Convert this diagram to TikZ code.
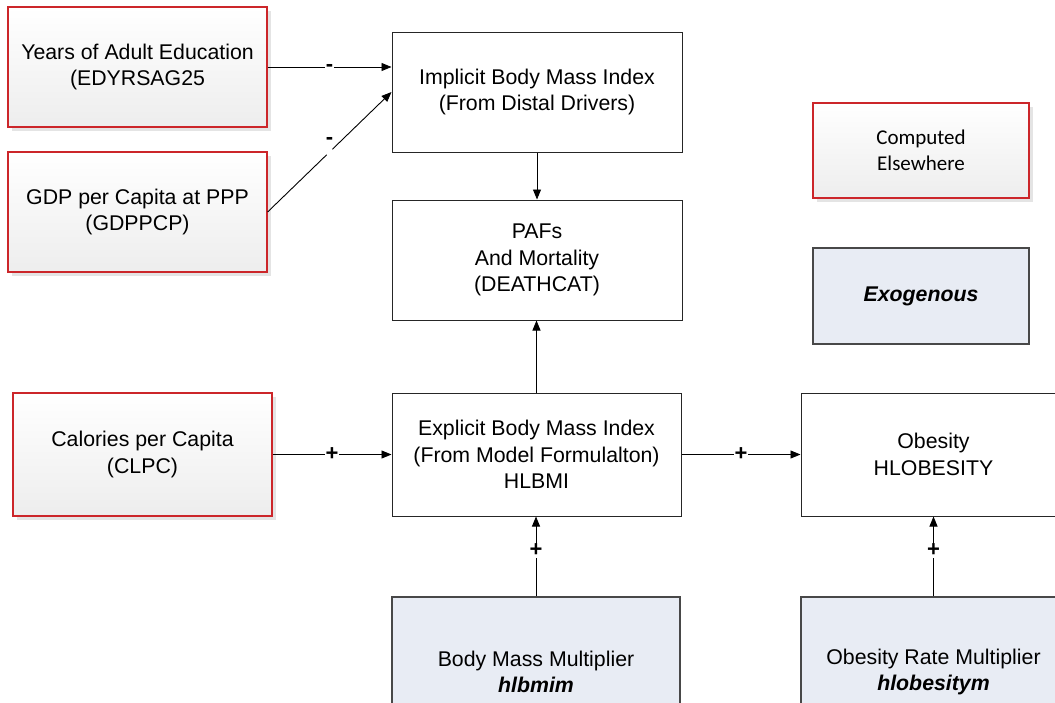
\documentclass[tikz,border=0pt]{standalone}
\usepackage{fontspec}
\setmainfont{Liberation Sans}
\newfontfamily\calibri{Carlito}
\usetikzlibrary{arrows.meta,shadows}

\definecolor{srcred}{RGB}{204,38,42}
\definecolor{exofill}{RGB}{232,236,244}
\definecolor{exoline}{RGB}{72,72,72}
\definecolor{shade}{RGB}{228,228,228}

\begin{document}
\begin{tikzpicture}[x=1pt,y=-1pt,
  txt/.style={font=\fontsize{21.3}{26.5}\selectfont, align=center, inner sep=0pt},
  plainbox/.style={txt, rectangle, draw=black!85, line width=1pt, fill=white},
  srcbox/.style={txt, rectangle, draw=srcred, line width=1.2pt,
    top color=white, bottom color=black!7,
    drop shadow={shadow xshift=4pt, shadow yshift=-4pt, fill=shade, opacity=1}},
  exobox/.style={txt, rectangle, draw=exoline, line width=1.2pt, fill=exofill},
  arr/.style={line width=0.9pt, -{Triangle[length=10pt,width=8pt]}},
  sign/.style={font=\fontsize{22}{22}\selectfont\bfseries, fill=white,
    inner sep=1pt, text height=0.9em, text depth=0pt},
  plus/.style={sign, text height=1.15em},
  gapdot/.style={fill=white, inner sep=0pt, minimum size=8pt, circle}]

\path[use as bounding box] (0,0) rectangle (1055,702);
\clip (0,0) rectangle (1055,702);

% sources computed in other parts of the model
\node[srcbox, minimum width=259pt, minimum height=120pt] (years) at (137.5,67)
  {Years of Adult Education\\(EDYRSAG25};
\node[srcbox, minimum width=259pt, minimum height=120pt] (gdp) at (137.5,212)
  {GDP per Capita at PPP\\(GDPPCP)};
\node[srcbox, minimum width=259pt, minimum height=123pt] (calories) at (142.5,454.5)
  {Calories per Capita\\(CLPC)};

% core model blocks
\node[plainbox, minimum width=290pt, minimum height=120pt] (implicit) at (537,92)
  {Implicit Body Mass Index\\(From Distal Drivers)};
\node[plainbox, minimum width=290pt, minimum height=120pt] (pafs) at (537,260)
  {PAFs\\And Mortality\\(DEATHCAT)};
\node[plainbox, minimum width=289pt, minimum height=123pt] (explicit) at (536.5,454.5)
  {Explicit Body Mass Index\\(From Model Formulalton)\\HLBMI};
\node[plainbox, minimum width=265pt, minimum height=123pt] (obesity) at (933.5,454.5)
  {Obesity\\HLOBESITY};

% exogenous multipliers
\node[exobox, minimum width=288pt, minimum height=150pt] (bmm) at (536,672)
  {Body Mass Multiplier\\\textbf{\textit{hlbmim}}};
\node[exobox, minimum width=265pt, minimum height=150pt] (orm) at (933.5,672)
  {Obesity Rate Multiplier\\\textbf{\textit{hlobesitym}}};

% legend
\node[srcbox, minimum width=216pt, minimum height=95pt,
  font=\calibri\fontsize{21}{26}\selectfont] (legsrc) at (921,150.5)
  {Computed\\Elsewhere};
\node[exobox, minimum width=216pt, minimum height=96pt,
  font=\fontsize{21.3}{26}\selectfont\bfseries\itshape] (legexo) at (921,296)
  {Exogenous};

% connectors
\draw[arr] (years.east) -- node[sign] {-} (implicit.west |- years.east);
\draw[arr] (gdp.east) -- node[gapdot] {} node[sign, fill=none, yshift=12pt] {-} (implicit.west);
\draw[arr] (implicit.south) -- (pafs.north);
\draw[arr] (explicit.north) -- (explicit.north |- pafs.south);
\draw[arr] (calories.east) -- node[plus] {+} (explicit.west);
\draw[arr] (explicit.east) -- node[plus] {+} (obesity.west);
\draw[arr] (bmm.north) -- node[sign, pos=0.55] {+} (bmm.north |- explicit.south);
\draw[arr] (orm.north) -- node[sign, pos=0.55] {+} (orm.north |- obesity.south);

\end{tikzpicture}
\end{document}
